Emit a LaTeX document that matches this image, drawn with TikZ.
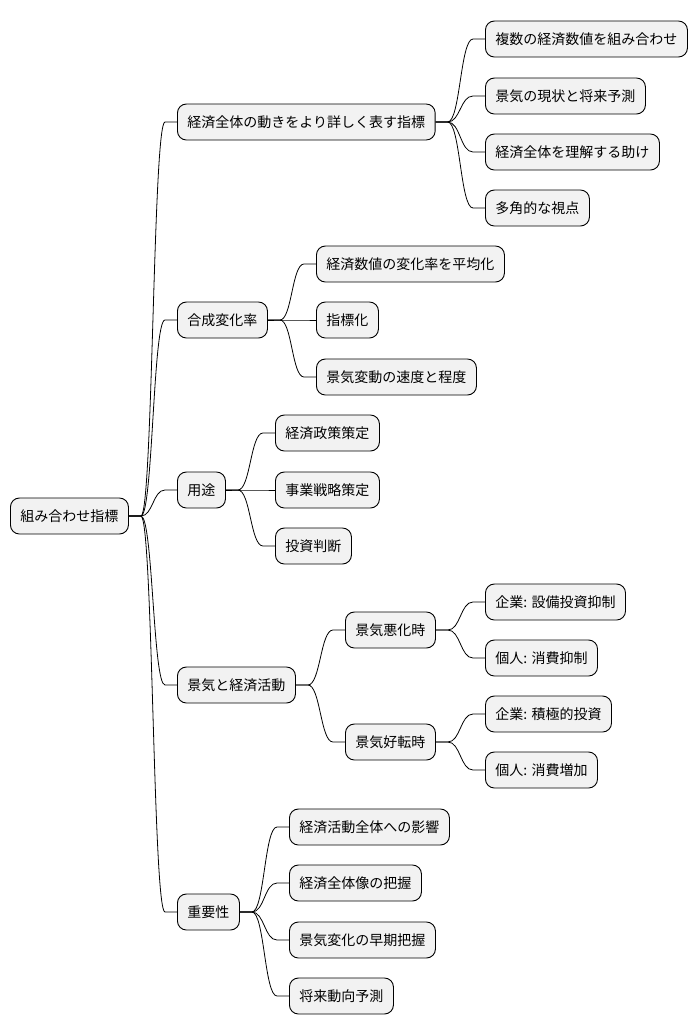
\documentclass[tikz,border=0pt]{standalone}
\usepackage{fontspec}
\setmainfont{Noto Sans CJK JP}
\usetikzlibrary{calc}
\begin{document}
\begin{tikzpicture}[x=1pt,y=-1pt,
 n/.style={draw=black,line width=0.9pt,fill=black!5,rounded corners=9pt,anchor=west,minimum height=36pt,inner xsep=10pt,font=\fontsize{14}{16}\selectfont},
 c/.style={line width=0.8pt}]
\useasboundingbox (0,0) rectangle (698,1034);
\newcommand\lnk[2]{\draw[c] let \p1=(#1.east), \p2=(#2.west), \n1={(\x1+\x2)/2} in (\p1) -- (\x1+12pt,\y1) .. controls (\n1,\y1) and (\n1,\y2) .. (\x2-12pt,\y2) -- (\p2);}
\node[n] (r) at (10,516) {組み合わせ指標};
\node[n] (a) at (177,122) {経済全体の動きをより詳しく表す指標};
\node[n] (b) at (177,320) {合成変化率};
\node[n] (c) at (177,490) {用途};
\node[n] (d) at (177,685) {景気と経済活動};
\node[n] (e) at (177,912) {重要性};
\node[n] (a1) at (485,39) {複数の経済数値を組み合わせ};
\node[n] (a2) at (485,96) {景気の現状と将来予測};
\node[n] (a3) at (485,152) {経済全体を理解する助け};
\node[n] (a4) at (485,208) {多角的な視点};
\node[n] (b1) at (316,264) {経済数値の変化率を平均化};
\node[n] (b2) at (316,320) {指標化};
\node[n] (b3) at (316,377) {景気変動の速度と程度};
\node[n] (c1) at (275,433) {経済政策策定};
\node[n] (c2) at (275,490) {事業戦略策定};
\node[n] (c3) at (275,546) {投資判断};
\node[n] (d1) at (345,630) {景気悪化時};
\node[n] (d2) at (345,742) {景気好転時};
\node[n] (d11) at (485,602) {企業: 設備投資抑制};
\node[n] (d12) at (485,658) {個人: 消費抑制};
\node[n] (d21) at (485,714) {企業: 積極的投資};
\node[n] (d22) at (485,770) {個人: 消費増加};
\node[n] (e1) at (289,827) {経済活動全体への影響};
\node[n] (e2) at (289,883) {経済全体像の把握};
\node[n] (e3) at (289,940) {景気変化の早期把握};
\node[n] (e4) at (289,996) {将来動向予測};
\foreach \u/\v in {r/a,r/b,r/c,r/d,r/e,a/a1,a/a2,a/a3,a/a4,b/b1,b/b2,b/b3,c/c1,c/c2,c/c3,d/d1,d/d2,d1/d11,d1/d12,d2/d21,d2/d22,e/e1,e/e2,e/e3,e/e4}{\lnk{\u}{\v}}
\end{tikzpicture}
\end{document}
